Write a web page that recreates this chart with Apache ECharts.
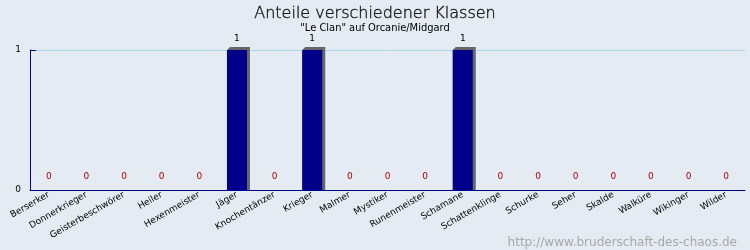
<!DOCTYPE html>
<html><head><meta charset="utf-8">
<script src="https://cdn.jsdelivr.net/npm/echarts@6/dist/echarts.min.js"></script>
<style>html,body{margin:0;padding:0;background:#e4ebf2}#c{width:750px;height:250px}</style>
</head><body><div id="c"></div>
<script>
const categories = ["Berserker","Donnerkrieger","Geisterbeschwörer","Heiler","Hexenmeister","Jäger","Knochentänzer","Krieger","Malmer","Mystiker","Runenmeister","Schamane","Schattenklinge","Schurke","Seher","Skalde","Walküre","Wikinger","Wilder"];
const values = [0,0,0,0,0,1,0,1,0,0,0,1,0,0,0,0,0,0,0];
const yTicks = [0,1];
const titleText = "Anteile verschiedener Klassen";
const subtitleText = '"Le Clan" auf Orcanie/Midgard';
const watermark = "http://www.bruderschaft-des-chaos.de";

const BAR_W = 20, SH = 3;
const data = values.map(v => v === 0
  ? {value: v, label: {color: '#b00000', distance: 9}}
  : {value: v});

const chart = echarts.init(document.getElementById('c'));
chart.setOption({
  backgroundColor: '#e4ebf2',
  animation: false,
  title: [{
    text: titleText, left: 'center', top: 1,
    textStyle: {fontFamily: 'DejaVu Sans', fontWeight: 200, fontSize: 16, color: '#1a1a1a',
      textBorderColor: '#1a1a1a', textBorderWidth: 0.4}
  },{
    text: subtitleText, left: 'center', top: 18,
    textStyle: {fontFamily: 'DejaVu Sans Condensed', fontWeight: 'normal', fontSize: 11, color: '#000'}
  },{
    text: watermark, right: 8, top: 232,
    textStyle: {fontFamily: 'DejaVu Sans', fontWeight: 'normal', fontSize: 12, color: '#a8a8a8'}
  }],
  grid: {left: 30, right: 5, top: 50, bottom: 60},
  xAxis: {
    type: 'category', data: categories, boundaryGap: true,
    axisLine: {lineStyle: {color: '#00008b', width: 1}},
    axisTick: {inside: true, length: 5, lineStyle: {color: '#00008b'}},
    axisLabel: {rotate: 30, fontSize: 9, fontFamily: 'DejaVu Sans', color: '#000', margin: 4, interval: 0}
  },
  yAxis: {
    type: 'value', min: 0, max: 1, interval: 1,
    axisLine: {show: true, lineStyle: {color: '#00008b', width: 1}},
    axisTick: {show: true, inside: true, length: 6, lineStyle: {color: '#00008b'}},
    axisLabel: {fontSize: 9, fontFamily: 'DejaVu Sans', color: '#000', margin: 9,
      formatter: v => yTicks.includes(v) ? String(v) : ''},
    splitLine: {show: true, lineStyle: {color: '#a6d8ea', width: 1}}
  },
  series: [{
    type: 'custom', z: 1, silent: true,
    data: values.map((v, i) => [i, v]),
    renderItem: (params, api) => {
      const v = api.value(1);
      if (!v) return null;
      const top = api.coord([api.value(0), v]);
      const base = api.coord([api.value(0), 0]);
      const x = top[0] - BAR_W / 2, y = top[1];
      return {
        type: 'polygon',
        shape: {points: [[x, y], [x + SH, y - SH], [x + BAR_W + SH, y - SH], [x + BAR_W + SH, base[1]], [x, base[1]]]},
        style: {fill: '#666666'}
      };
    }
  },{
    type: 'bar', z: 2, data: data, barWidth: BAR_W,
    itemStyle: {color: '#00008b'},
    label: {show: true, position: 'top', distance: 7, fontSize: 9, fontFamily: 'DejaVu Sans', color: '#000'}
  }]
});
</script></body></html>
